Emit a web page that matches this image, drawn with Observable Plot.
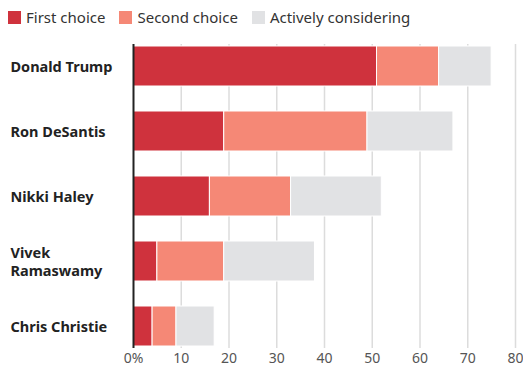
<!DOCTYPE html>
<html>
<head>
<meta charset="utf-8">
<script src="https://cdn.jsdelivr.net/npm/d3@7"></script>
<script src="https://cdn.jsdelivr.net/npm/@observablehq/plot@0.6"></script>
<style>
  html, body { margin: 0; padding: 0; background: #fff; }
  body { width: 523px; height: 374px; overflow: hidden; font-family: "Noto Sans", sans-serif; }
  #legend { height: 32px; display: flex; align-items: flex-end; padding-left: 8px; box-sizing: border-box; padding-bottom: 5px; }
  .item { display: flex; align-items: center; margin-right: 14px; font-size: 15px; color: #333; }
  .sw { width: 13px; height: 13px; margin-right: 5px; display: inline-block; }
  svg { display: block; }
</style>
</head>
<body>
<div id="legend"></div>
<div id="chart"></div>
<script>
const candidates = ["Donald Trump", "Ron DeSantis", "Nikki Haley", "Vivek\nRamaswamy", "Chris Christie"];
const firstChoice = [51, 19, 16, 5, 4];
const secondChoice = [13, 30, 17, 14, 5];
const activelyConsidering = [11, 18, 19, 19, 8];
const seriesNames = ["First choice", "Second choice", "Actively considering"];
const seriesColors = ["#cf323d", "#f58876", "#e1e2e4"];
const xTicks = [0, 10, 20, 30, 40, 50, 60, 70, 80];

const seriesValues = [firstChoice, secondChoice, activelyConsidering];
const data = [];
candidates.forEach((c, i) => {
  seriesNames.forEach((s, j) => data.push({candidate: c, type: s, value: seriesValues[j][i]}));
});

const legend = document.getElementById("legend");
seriesNames.forEach((s, j) => {
  const it = document.createElement("div");
  it.className = "item";
  it.innerHTML = `<span class="sw" style="background:${seriesColors[j]}"></span><span>${s}</span>`;
  legend.appendChild(it);
});

const chart = Plot.plot({
  width: 523,
  height: 342,
  marginLeft: 133,
  marginRight: 8,
  marginTop: 12,
  marginBottom: 26,
  style: {fontFamily: "Noto Sans, sans-serif", background: "#fff"},
  x: {domain: [0, 80]},
  y: {domain: candidates, paddingInner: 0.39, paddingOuter: 0.02},
  color: {domain: seriesNames, range: seriesColors},
  marks: [
    Plot.gridX(xTicks.filter(d => d > 0), {stroke: "#dcdcdc", strokeWidth: 1.5, strokeOpacity: 1}),
    Plot.barX(data, Plot.stackX({x: "value", y: "candidate", fill: "type", order: seriesNames, stroke: "white", strokeWidth: 1})),
    Plot.ruleX([0], {stroke: "#222", strokeWidth: 2}),
    Plot.axisX(xTicks, {tickSize: 0, tickPadding: 5, fontSize: 14, fill: "#555",
      tickFormat: d => d === 0 ? "0%" : String(d), label: null}),
    Plot.axisY({tickSize: 0, tickPadding: 0, textAnchor: "start", dx: 10 - 133, fontSize: 14.5, fontWeight: "bold", fill: "#222", label: null, lineHeight: 1.25})
  ]
});
document.getElementById("chart").appendChild(chart);
</script>
</body>
</html>
